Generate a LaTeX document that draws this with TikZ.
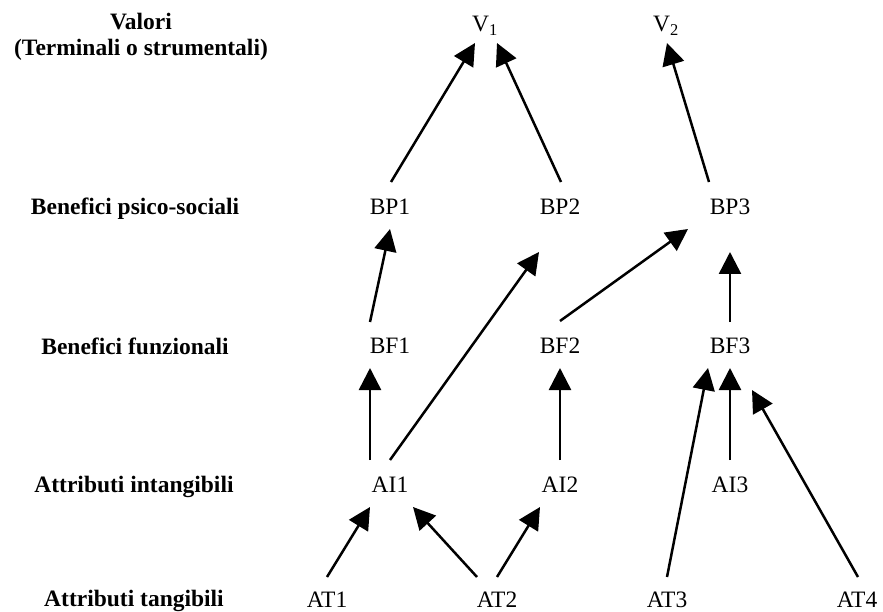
\documentclass[tikz,border=0pt]{standalone}
\usepackage{fontspec}
\setmainfont{Liberation Serif}
\usetikzlibrary{arrows.meta,calc}
\begin{document}
\begin{tikzpicture}[x=1pt,y=-1pt,
  every node/.style={inner sep=0pt,outer sep=0pt,anchor=base,
    font=\fontsize{23.5}{26}\selectfont},
  lvl/.style={font=\fontsize{23.5}{26}\selectfont\bfseries,align=center},
  item/.style={},
  arr/.style={line width=2.5pt,-{Triangle[length=22pt,width=22pt]}}]
\useasboundingbox (0,0) rectangle (883,612);

% level labels (a multi-line node sits on the baseline of its last line)
\node[lvl] (lv) at (141,56) {Valori\\(Terminali o strumentali)};
\node[lvl] (lbp) at (135,215) {Benefici psico-sociali};
\node[lvl] (lbf) at (135,354) {Benefici funzionali};
\node[lvl] (lai) at (134,492) {Attributi intangibili};
\node[lvl] (lat) at (134,606) {Attributi tangibili};

% values
\node[item] (V1) at (485,32) {V\textsubscript{1}};
\node[item] (V2) at (666,32) {V\textsubscript{2}};

% psycho-social benefits
\node[item] (BP1) at (390,215) {BP1};
\node[item] (BP2) at (560,215) {BP2};
\node[item] (BP3) at (730,215) {BP3};

% functional benefits
\node[item] (BF1) at (390,353) {BF1};
\node[item] (BF2) at (560,353) {BF2};
\node[item] (BF3) at (730,353) {BF3};

% intangible attributes
\node[item] (AI1) at (390,492) {AI1};
\node[item] (AI2) at (560,492) {AI2};
\node[item] (AI3) at (730,492) {AI3};

% tangible attributes
\node[item] (AT1) at (327,607) {AT1};
\node[item] (AT2) at (497,607) {AT2};
\node[item] (AT3) at (667,607) {AT3};
\node[item] (AT4) at (857,607) {AT4};

% links
\draw[arr] ($(BP1.base)+(1,-33)$) -- ($(V1.base)+(-10,11)$);
\draw[arr] ($(BP2.base)+(1,-33)$) -- ($(V1.base)+(12,11)$);
\draw[arr] ($(BP3.base)+(-21,-33)$) -- ($(V2.base)+(1,11)$);

\draw[arr] ($(BF1.base)+(-20,-31)$) -- ($(BP1.base)+(0,14)$);
\draw[arr] ($(AI1.base)+(-20,-32)$) -- ($(BF1.base)+(-20,15)$);
\draw[arr] ($(AI1.base)+(0,-32)$) -- ($(BP2.base)+(-21,37)$);
\draw[arr] ($(BF2.base)+(0,-32)$) -- ($(BP3.base)+(-42,14)$);
\draw[arr] ($(AI2.base)+(0,-32)$) -- ($(BF2.base)+(0,15)$);
\draw[arr] ($(BF3.base)+(0,-31)$) -- ($(BP3.base)+(0,37)$);
\draw[arr] ($(AI3.base)+(0,-32)$) -- ($(BF3.base)+(0,15)$);
\draw[arr] ($(AT3.base)+(0,-30)$) -- ($(BF3.base)+(-22,15)$);
\draw[arr] ($(AT4.base)+(1,-30)$) -- ($(BF3.base)+(22,37)$);

\draw[arr] ($(AT1.base)+(0,-30)$) -- ($(AI1.base)+(-20,15)$);
\draw[arr] ($(AT2.base)+(-20,-30)$) -- ($(AI1.base)+(23,15)$);
\draw[arr] ($(AT2.base)+(0,-30)$) -- ($(AI2.base)+(-20,15)$);
\end{tikzpicture}
\end{document}
